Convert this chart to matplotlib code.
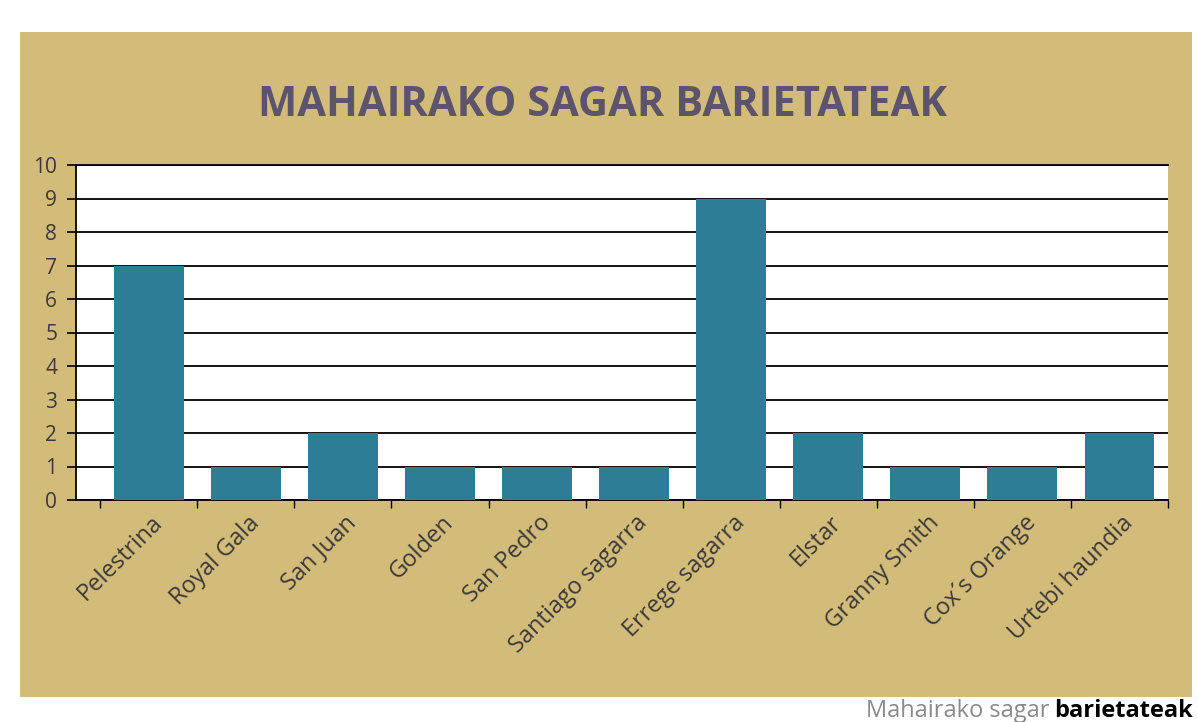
import matplotlib
matplotlib.use("Agg")
import matplotlib.pyplot as plt
import matplotlib.transforms as mtransforms
from matplotlib.patches import Rectangle
import numpy as np

## data
varieties = ["Pelestrina", "Royal Gala", "San Juan", "Golden", "San Pedro",
             "Santiago sagarra", "Errege sagarra", "Elstar", "Granny Smith",
             "Cox´s Orange", "Urtebi haundia"]
values = [7, 1, 2, 1, 1, 1, 9, 2, 1, 1, 2]
yticks = list(range(0, 11))

tan = "#D3BC79"
teal = "#2E7D97"
title_col = "#5C536C"
txt_col = "#3A3A3A"

plt.rcParams['font.family'] = ['Open Sans', 'DejaVu Sans']

fig = plt.figure(figsize=(11.98, 7.22), dpi=100)
fig.patch.set_facecolor("white")

## tan card behind the chart
card = Rectangle((0.017, 1 - 697/722), 0.978, (697 - 32)/722,
                 transform=fig.transFigure, facecolor=tan, edgecolor="none",
                 zorder=-5)
fig.patches.append(card)

ax = fig.add_axes([76/1198, 1 - 500/722, (1168 - 76)/1198, (500 - 165)/722])
ax.set_zorder(2)
ax.set_facecolor("white")
ax.set_axisbelow(True)

x = np.arange(len(varieties))
ax.bar(x, values, width=0.72, color=teal, edgecolor="none", zorder=3)

ax.set_xlim(-0.75, len(varieties) - 0.5)
ax.set_ylim(0, 10)

ax.set_yticks(yticks)
ax.set_yticklabels([str(v) for v in yticks], fontsize=15, color=txt_col)
ax.yaxis.grid(True, color="black", linewidth=1.3)
ax.tick_params(axis="y", length=6.5, width=1.2, pad=7, color="black")

## category borders as major ticks, names on minor ticks
ax.set_xticks(np.arange(-0.5, len(varieties), 1.0))
ax.set_xticklabels([])
ax.set_xticks(x, minor=True)
ax.set_xticklabels(varieties, minor=True, rotation=45, ha="right",
                   va="center", rotation_mode="anchor", fontsize=17,
                   color=txt_col)
ax.tick_params(axis="x", which="major", length=6, width=1.0, direction="out")
ax.tick_params(axis="x", which="minor", length=0, pad=14)
shift = mtransforms.ScaledTranslation(10/100, 0, fig.dpi_scale_trans)
for lab in ax.get_xticklabels(minor=True):
    lab.set_transform(lab.get_transform() + shift)

for side in ["left", "bottom", "top"]:
    ax.spines[side].set_color("black")
    ax.spines[side].set_linewidth(1.3)
ax.spines["right"].set_visible(False)

fig.text(603/1198, 1 - 105/722, "MAHAIRAKO SAGAR BARIETATEAK", ha="center",
         va="center", fontsize=30, fontweight="bold", color=title_col)

## caption under the card
fig.text(1050/1198, 5/722, "Mahairako sagar", ha="right", va="baseline",
         fontsize=17, color="#8a8a8a")
fig.text(1054/1198, 5/722, "barietateak", ha="left", va="baseline",
         fontsize=17, fontweight="bold", color="black")

fig.savefig("out.png", dpi=100, facecolor=fig.get_facecolor())
